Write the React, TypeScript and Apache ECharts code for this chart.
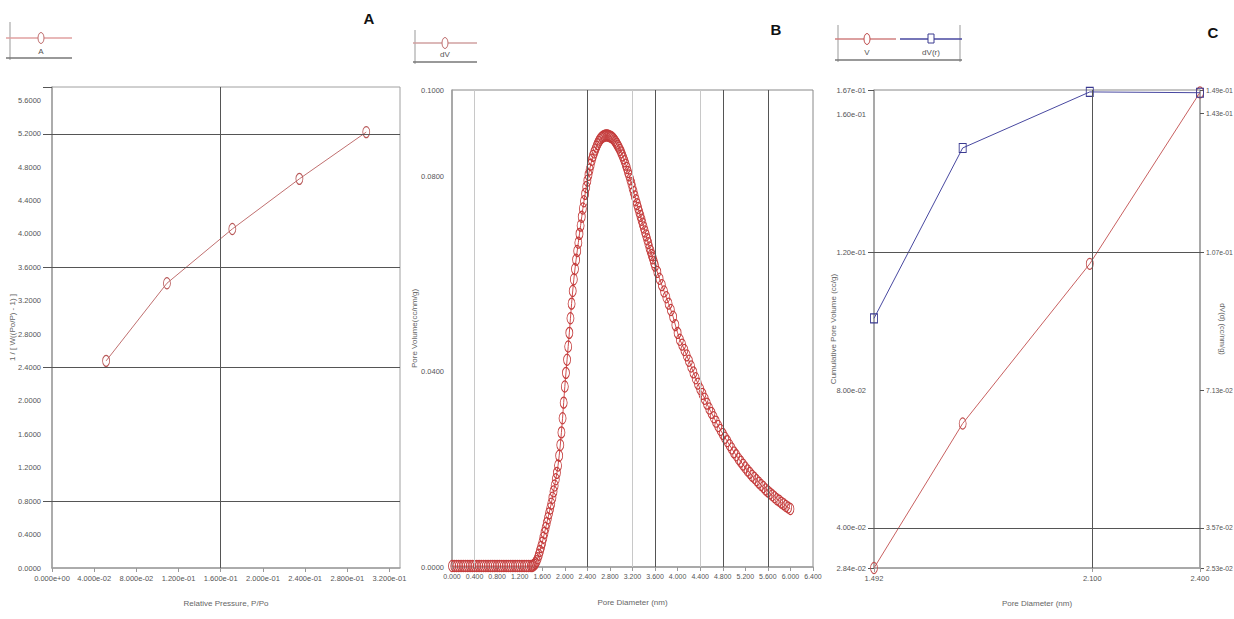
import React, { useEffect, useRef } from "react";
import * as echarts from "echarts";

const FONT = "'Liberation Sans', Arial, sans-serif";
const TITLE_FONT = "'Liberation Sans', Arial, sans-serif";

// ---------- Panel A : BET plot ----------
const betPressure = [0.0513, 0.109, 0.171, 0.2346, 0.298];
const betValue = [2.48, 3.41, 4.06, 4.66, 5.22];
const betXTicks = [0, 0.04, 0.08, 0.12, 0.16, 0.2, 0.24, 0.28, 0.32];
const betYTicks = [0, 0.4, 0.8, 1.2, 1.6, 2.0, 2.4, 2.8, 3.2, 3.6, 4.0, 4.4, 4.8, 5.2, 5.6];
const betYGrid = [0.8, 2.4, 3.6, 5.2];
const betXGrid = [0.16];
const betXMax = 0.33;
const betYMax = 5.76;

// ---------- Panel B : pore size distribution ----------
const psdPoints: [number, number][] = [
  [0.00, 0.0002], [0.04, 0.0002], [0.08, 0.0002], [0.12, 0.0002], [0.16, 0.0002], [0.20, 0.0002],
  [0.24, 0.0002], [0.28, 0.0002], [0.32, 0.0002], [0.36, 0.0002], [0.40, 0.0002], [0.44, 0.0002],
  [0.48, 0.0002], [0.52, 0.0002], [0.56, 0.0002], [0.60, 0.0002], [0.64, 0.0002], [0.68, 0.0002],
  [0.72, 0.0002], [0.76, 0.0002], [0.80, 0.0002], [0.84, 0.0002], [0.88, 0.0002], [0.92, 0.0002],
  [0.96, 0.0002], [1.00, 0.0002], [1.04, 0.0002], [1.08, 0.0002], [1.12, 0.0002], [1.16, 0.0002],
  [1.20, 0.0002], [1.24, 0.0002], [1.28, 0.0002], [1.32, 0.0002], [1.36, 0.0002],
  [1.40, 0.0002], [1.42, 0.0002], [1.44, 0.0003], [1.46, 0.0005], [1.48, 0.0008], [1.50, 0.0012],
  [1.52, 0.0018], [1.54, 0.0025], [1.56, 0.0033], [1.58, 0.0041], [1.60, 0.0050], [1.62, 0.0060],
  [1.64, 0.0070], [1.66, 0.0080], [1.68, 0.0090], [1.70, 0.0100], [1.72, 0.0110], [1.74, 0.0120],
  [1.76, 0.0130], [1.78, 0.0142], [1.80, 0.0155], [1.82, 0.0167], [1.84, 0.0180], [1.86, 0.0193],
  [1.88, 0.0208], [1.90, 0.0228], [1.92, 0.0250], [1.94, 0.0276], [1.96, 0.0305], [1.98, 0.0337],
  [2.00, 0.0370], [2.02, 0.0398], [2.04, 0.0425], [2.06, 0.0452], [2.08, 0.0480], [2.10, 0.0510],
  [2.12, 0.0540], [2.14, 0.0566], [2.16, 0.0590], [2.18, 0.0611], [2.20, 0.0630], [2.22, 0.0648],
  [2.24, 0.0665], [2.26, 0.0683], [2.28, 0.0700], [2.30, 0.0718], [2.32, 0.0735], [2.34, 0.0750],
  [2.36, 0.0765], [2.38, 0.0779], [2.40, 0.0792], [2.42, 0.0804], [2.44, 0.0815], [2.46, 0.0825],
  [2.48, 0.0835], [2.50, 0.0843], [2.52, 0.0850], [2.54, 0.0856], [2.56, 0.0862], [2.58, 0.0867],
  [2.60, 0.0872], [2.62, 0.0876], [2.64, 0.0879], [2.66, 0.0881], [2.68, 0.0883], [2.70, 0.0884],
  [2.72, 0.0885], [2.74, 0.0885], [2.76, 0.0885], [2.78, 0.0884], [2.80, 0.0883], [2.82, 0.0882],
  [2.84, 0.0880], [2.86, 0.0878], [2.88, 0.0875], [2.90, 0.0872], [2.92, 0.0868], [2.94, 0.0864],
  [2.96, 0.0860], [2.98, 0.0855], [3.00, 0.0850], [3.02, 0.0844], [3.04, 0.0838], [3.06, 0.0832],
  [3.08, 0.0825], [3.10, 0.0818], [3.12, 0.0810], [3.14, 0.0803], [3.16, 0.0795], [3.18, 0.0787],
  [3.20, 0.0778], [3.22, 0.0769], [3.24, 0.0760], [3.26, 0.0752], [3.28, 0.0744], [3.30, 0.0736],
  [3.32, 0.0728], [3.34, 0.0720], [3.36, 0.0712], [3.38, 0.0704], [3.40, 0.0696], [3.42, 0.0688],
  [3.44, 0.0680], [3.46, 0.0672], [3.48, 0.0664], [3.50, 0.0655], [3.52, 0.0648], [3.54, 0.0640],
  [3.56, 0.0633], [3.58, 0.0625], [3.60, 0.0618],
  [3.64, 0.0605], [3.68, 0.0591], [3.72, 0.0578], [3.76, 0.0565], [3.80, 0.0553], [3.84, 0.0540],
  [3.88, 0.0527], [3.92, 0.0513], [3.96, 0.0496], [4.00, 0.0480], [4.04, 0.0466], [4.08, 0.0456],
  [4.12, 0.0445], [4.16, 0.0434], [4.20, 0.0423], [4.24, 0.0411], [4.28, 0.0399], [4.32, 0.0387],
  [4.36, 0.0376], [4.40, 0.0365], [4.44, 0.0355], [4.48, 0.0345], [4.52, 0.0335], [4.56, 0.0325],
  [4.60, 0.0316], [4.64, 0.0307], [4.68, 0.0298], [4.72, 0.0289], [4.76, 0.0281], [4.80, 0.0273],
  [4.84, 0.0265], [4.88, 0.0258], [4.92, 0.0250], [4.96, 0.0243], [5.00, 0.0235], [5.04, 0.0229],
  [5.08, 0.0222], [5.12, 0.0216], [5.16, 0.0210], [5.20, 0.0204], [5.24, 0.0198], [5.28, 0.0193],
  [5.32, 0.0187], [5.36, 0.0183], [5.40, 0.0178], [5.44, 0.0173], [5.48, 0.0168], [5.52, 0.0164],
  [5.56, 0.0159], [5.60, 0.0155], [5.64, 0.0151], [5.68, 0.0147], [5.72, 0.0143], [5.76, 0.0139],
  [5.80, 0.0136], [5.84, 0.0132], [5.88, 0.0129], [5.92, 0.0125], [5.96, 0.0122], [6.00, 0.0119],
];
const psdXTicks = [0, 0.4, 0.8, 1.2, 1.6, 2.0, 2.4, 2.8, 3.2, 3.6, 4.0, 4.4, 4.8, 5.2, 5.6, 6.0, 6.4];
const psdYTicks = [0, 0.04, 0.08, 0.0978];
const psdYMax = 0.0978;
const psdGridDark = [2.4, 3.6, 4.8, 5.6];
const psdGridLight = [0.4, 3.2, 4.4];

// ---------- Panel C : cumulative / dV(r) ----------
const cumDiameter = [1.492, 1.739, 2.093, 2.4];
const cumVolume = [0.0284, 0.0703, 0.1166, 0.1663];
const dvrValue = [0.0899, 0.134, 0.1485, 0.1483];
const cumXTicks = [1.492, 2.1, 2.4];
const cumLeftTicks = [0.0284, 0.04, 0.08, 0.12, 0.16, 0.167];
const cumLeftMarks = [0.0284, 0.04, 0.12, 0.167];
const cumRightTicks = [0.0253, 0.0357, 0.0713, 0.107, 0.143, 0.149];
const cumYGrid = [0.04, 0.12];
const cumXGrid = [2.1];

const sci = (v: number, d: number) => {
  const s = v.toExponential(d);
  const [m, e] = s.split("e");
  const sign = e[0];
  const num = e.slice(1).padStart(2, "0");
  return `${m}e${sign}${num}`;
};

const LABEL = { color: "#555", fontSize: 8, fontFamily: FONT };
const NAME = { color: "#666", fontSize: 8, fontFamily: FONT };
const AXLINE = { show: true, lineStyle: { color: "#a0a0a0", width: 1.5 } };

const darkGrid = { color: "#555", width: 1, type: "solid" as const };
const lightGrid = { color: "#c8c8c8", width: 1, type: "solid" as const };

export default function App() {
  const ref = useRef<HTMLDivElement>(null);
  useEffect(() => {
    document.body.style.margin = "0";
    const chart = echarts.init(ref.current!, null, { renderer: "svg" });

    const markerEllipse = (color: string) => ({
      symbol: "circle",
      symbolSize: [7, 11],
      itemStyle: { color: "rgba(255,255,255,0)", borderColor: color, borderWidth: 1 },
    });

    const legendLine = (x1: number, x2: number, y: number, color: string, w = 1) => ({
      type: "line",
      shape: { x1, y1: y, x2, y2: y },
      style: { stroke: color, lineWidth: w },
      silent: true,
    });
    const vline = (x: number, y1: number, y2: number) => ({
      type: "line",
      shape: { x1: x, y1, x2: x, y2 },
      style: { stroke: "#999", lineWidth: 1 },
      silent: true,
    });
    const txt = (x: number, y: number, text: string, size: number, bold = false) => ({
      type: "text",
      x,
      y,
      style: {
        text,
        fill: bold ? "#111" : "#555",
        fontSize: size,
        fontWeight: bold ? "bold" : "normal",
        fontFamily: bold ? TITLE_FONT : FONT,
        textAlign: "center",
        textVerticalAlign: "middle",
      },
      silent: true,
    });

    const baseX = (gridIndex: number, min: number, max: number, ticks: number[], fmt: (v: number) => string,
      alignMin: string, alignMax: string, size = 8) => ({
      type: "value", gridIndex, min, max,
      nameLocation: "middle", nameGap: 31, nameTextStyle: NAME, nameMoveOverlap: false,
      axisLine: AXLINE, splitLine: { show: false },
      axisTick: { show: true, customValues: ticks, length: 4, lineStyle: { color: "#999" } },
      axisLabel: {
        ...LABEL, fontSize: size, customValues: ticks, margin: 6, formatter: fmt,
        showMinLabel: true, showMaxLabel: true, hideOverlap: false,
        alignMinLabel: alignMin, alignMaxLabel: alignMax,
      },
    });

    const xA: any = baseX(0, 0, betXMax, betXTicks, (v) => sci(v, 3), "center", "center", 7.5);
    xA.name = "Relative Pressure, P/Po";
    const xB: any = baseX(1, 0, 6.4, psdXTicks, (v) => v.toFixed(3), "center", "center", 7);
    xB.name = "Pore Diameter (nm)";
    const xC: any = baseX(2, 1.492, 2.4, cumXTicks, (v) => v.toFixed(3), "center", "center", 7.5);
    xC.name = "Pore Diameter (nm)";

    const option: any = {
      animation: false,
      backgroundColor: "#fff",
      grid: [
        { left: 52, top: 87, width: 348, height: 481, show: true, borderColor: "#a0a0a0", borderWidth: 1, outerBoundsMode: "none" },
        { left: 452, top: 90, width: 361, height: 477, show: true, borderColor: "#888", borderWidth: 1, outerBoundsMode: "none" },
        { left: 874, top: 90, width: 326, height: 478, show: true, borderColor: "#888", borderWidth: 1, outerBoundsMode: "none" },
      ],
      xAxis: [xA, xB, xC],
      yAxis: [
        {
          type: "value", gridIndex: 0, min: 0, max: betYMax,
          name: "1 / [ W((Po/P) - 1) ]", nameLocation: "middle", nameGap: 36, nameRotate: 90, nameTextStyle: NAME, nameMoveOverlap: false,
          axisLine: AXLINE, splitLine: { show: false },
          axisTick: { show: true, customValues: [...betYGrid, betYMax], length: 9, lineStyle: { color: "#555" } },
          axisLabel: { ...LABEL, fontSize: 7.5, customValues: betYTicks, margin: 11, showMinLabel: true, showMaxLabel: true, hideOverlap: false, formatter: (v: number) => v.toFixed(4) },
        },
        {
          type: "value", gridIndex: 1, min: 0, max: psdYMax,
          name: "Pore Volume(cc/nm/g)", nameLocation: "middle", nameGap: 34, nameRotate: 90, nameTextStyle: NAME, nameMoveOverlap: false,
          axisLine: AXLINE, splitLine: { show: false },
          axisTick: { show: false },
          axisLabel: {
            ...LABEL, fontSize: 7.5, customValues: psdYTicks, margin: 8, showMinLabel: true, showMaxLabel: true, hideOverlap: false,
            formatter: (v: number) => (v > 0.09 ? "0.1000" : v.toFixed(4)),
          },
        },
        {
          type: "value", gridIndex: 2, min: 0.0284, max: 0.167, position: "left",
          name: "Cumulative Pore Volume (cc/g)", nameLocation: "middle", nameGap: 37, nameRotate: 90, nameTextStyle: NAME, nameMoveOverlap: false,
          axisLine: AXLINE, splitLine: { show: false },
          axisTick: { show: true, customValues: cumLeftMarks, length: 6, lineStyle: { color: "#555" } },
          axisLabel: { ...LABEL, fontSize: 7.5, customValues: cumLeftTicks, margin: 8, showMinLabel: true, showMaxLabel: true, hideOverlap: false, formatter: (v: number) => sci(v, 2) },
        },
        {
          type: "value", gridIndex: 2, min: 0.0253, max: 0.149, position: "right",
          name: "dV(d) (cc/nm/g)", nameLocation: "middle", nameGap: 18, nameRotate: -90,
          nameTextStyle: { ...NAME, fontSize: 7.5 }, nameMoveOverlap: false,
          axisLine: AXLINE, splitLine: { show: false },
          axisTick: { show: true, customValues: cumRightTicks, length: 4, lineStyle: { color: "#555" } },
          axisLabel: { ...LABEL, fontSize: 6.8, customValues: cumRightTicks, margin: 6, showMinLabel: true, showMaxLabel: true, hideOverlap: false, formatter: (v: number) => sci(v, 2) },
        },
      ],
      series: [
        {
          name: "A", type: "line", xAxisIndex: 0, yAxisIndex: 0,
          data: betPressure.map((x, i) => [x, betValue[i]]),
          ...markerEllipse("#b85858"),
          lineStyle: { color: "#c07070", width: 1 },
          emphasis: { disabled: true },
          markLine: {
            silent: true, symbol: "none", label: { show: false }, animation: false,
            lineStyle: darkGrid,
            data: [...betYGrid.map((v) => ({ yAxis: v })), ...betXGrid.map((v) => ({ xAxis: v }))],
          },
          z: 3,
        },
        {
          name: "dV", type: "line", xAxisIndex: 1, yAxisIndex: 1,
          data: psdPoints,
          ...markerEllipse("#c43c3c"),
          lineStyle: { color: "#d05050", width: 1 },
          emphasis: { disabled: true },
          markLine: {
            silent: true, symbol: "none", label: { show: false }, animation: false,
            lineStyle: darkGrid,
            data: [
              ...psdGridLight.map((v) => ({ xAxis: v, lineStyle: lightGrid })),
              ...psdGridDark.map((v) => ({ xAxis: v, lineStyle: darkGrid })),
            ],
          },
          z: 3,
        },
        {
          name: "V", type: "line", xAxisIndex: 2, yAxisIndex: 2,
          data: cumDiameter.map((x, i) => [x, cumVolume[i]]),
          ...markerEllipse("#c05050"),
          lineStyle: { color: "#c86060", width: 1 },
          emphasis: { disabled: true },
          markLine: {
            silent: true, symbol: "none", label: { show: false }, animation: false,
            lineStyle: darkGrid,
            data: [...cumYGrid.map((v) => ({ yAxis: v })), ...cumXGrid.map((v) => ({ xAxis: v }))],
          },
          z: 3,
        },
        {
          name: "dV(r)", type: "line", xAxisIndex: 2, yAxisIndex: 3,
          data: cumDiameter.map((x, i) => [x, dvrValue[i]]),
          symbol: "rect", symbolSize: [7, 9],
          itemStyle: { color: "rgba(255,255,255,0)", borderColor: "#3a3a90", borderWidth: 1 },
          lineStyle: { color: "#4848a0", width: 1 },
          emphasis: { disabled: true },
          z: 3,
        },
      ],
      graphic: [
        // Legend A
        vline(10, 22, 60),
        legendLine(6, 72, 38, "#e0a0a0", 1.5),
        { type: "ellipse", shape: { cx: 41, cy: 38, rx: 3, ry: 5.5 }, style: { fill: "#fff", stroke: "#c07070", lineWidth: 1 }, silent: true },
        txt(41, 51, "A", 8),
        legendLine(6, 72, 58, "#777", 1.5),
        txt(369, 18, "A", 15, true),
        // Legend B
        vline(415, 30, 64),
        legendLine(413, 477, 43, "#d0a0a0", 1.5),
        { type: "ellipse", shape: { cx: 445, cy: 43, rx: 3, ry: 5.5 }, style: { fill: "#fff", stroke: "#c07070", lineWidth: 1 }, silent: true },
        txt(445, 54, "dV", 8),
        legendLine(413, 477, 62, "#777", 1.5),
        txt(776, 29, "B", 15, true),
        // Legend C
        vline(838, 25, 62),
        vline(960, 25, 62),
        legendLine(835, 896, 39, "#d08080", 1.5),
        { type: "ellipse", shape: { cx: 867, cy: 39, rx: 3, ry: 5.5 }, style: { fill: "#fff", stroke: "#c05050", lineWidth: 1 }, silent: true },
        legendLine(900, 962, 39, "#4848a0", 1.5),
        { type: "rect", shape: { x: 928, y: 34, width: 6, height: 9 }, style: { fill: "#fff", stroke: "#3a3a90", lineWidth: 1 }, silent: true },
        txt(867, 52, "V", 8),
        txt(931, 52, "dV(r)", 8),
        legendLine(835, 962, 60, "#777", 1.5),
        txt(1213, 32, "C", 15, true),
      ],
    };
    chart.setOption(option);
    return () => chart.dispose();
  }, []);
  return <div ref={ref} style={{ width: 1234, height: 619 }} />;
}
